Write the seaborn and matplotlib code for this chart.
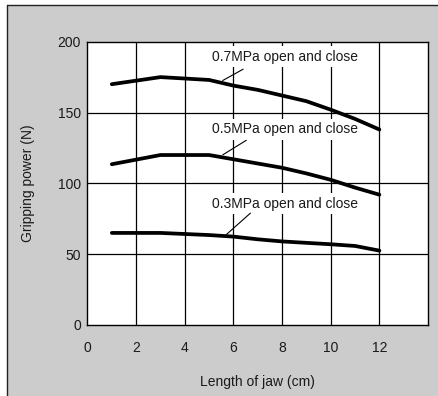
import pandas as pd
import seaborn as sns
import matplotlib.pyplot as plt
from matplotlib.patches import Rectangle
from matplotlib.lines import Line2D

jaw_length = [1, 3, 5, 6, 7, 8, 9, 10, 11, 12]
grip_07 = [170, 175, 173, 169, 166, 162, 158, 152, 145.5, 138]
grip_05 = [113.5, 120, 120, 117, 114, 111, 107, 102.5, 97, 92]
grip_03 = [65, 65, 63.5, 62.4, 60.5, 59, 58, 57, 55.8, 52.5]
series_names = ["0.7MPa open and close", "0.5MPa open and close", "0.3MPa open and close"]

df = pd.concat([
    pd.DataFrame({"x": jaw_length, "y": vals, "series": name})
    for name, vals in zip(series_names, [grip_07, grip_05, grip_03])
])

sns.set_style("white")
plt.rcParams["font.family"] = ["Liberation Sans", "DejaVu Sans"]
txt_col = "#1a1a1a"

fig = plt.figure(figsize=(4.39, 3.96), dpi=100, facecolor="white")
# grey panel with border on top and left
fig.patches.append(Rectangle((7 / 439, 0), 1, 1 - 5 / 396, transform=fig.transFigure,
                             facecolor="#cccccc", edgecolor="none", zorder=-10))
fig.lines.append(Line2D([7 / 439, 7 / 439], [0, 1 - 5 / 396], transform=fig.transFigure,
                        color="#222222", lw=1.0, zorder=-5))
fig.lines.append(Line2D([7 / 439, 1], [1 - 5 / 396, 1 - 5 / 396], transform=fig.transFigure,
                        color="#222222", lw=1.0, zorder=-5))

ax = fig.add_axes([87.5 / 439, 1 - 325 / 396, 340.5 / 439, 283.3 / 396])
ax.set_facecolor("white")

sns.lineplot(data=df, x="x", y="y", units="series", estimator=None, color="black",
             lw=2.7, ax=ax, legend=False, zorder=5)

ax.set_xlim(0, 14)
ax.set_ylim(0, 200)
ax.set_xticks([0, 2, 4, 6, 8, 10, 12])
ax.set_yticks([0, 50, 100, 150, 200])
ax.tick_params(length=0, labelsize=10, colors=txt_col)
ax.tick_params(axis="x", pad=11.5)
ax.tick_params(axis="y", pad=4.7)
for x in [2, 4, 6, 8, 10, 12]:
    ax.axvline(x, color="black", lw=0.9, zorder=1)
for y in [50, 100, 150]:
    ax.axhline(y, color="black", lw=0.9, zorder=1)
for s in ax.spines.values():
    s.set_color("black")
    s.set_linewidth(1.0)

ax.set_xlabel("Length of jaw (cm)", fontsize=10, color=txt_col)
ax.set_ylabel("Gripping power (N)", fontsize=10, color=txt_col)
ax.xaxis.set_label_coords(0.5, -0.175)
ax.yaxis.set_label_coords(-0.154, 0.5)

label_pos = [(8.1, 189.5), (8.1, 138.3), (8.1, 85.5)]
leaders = [((5.56, 172.6), (6.40, 180.6)), ((5.56, 120.1), (6.53, 130.4)), ((5.68, 63.4), (6.70, 79))]
for name, (tx, ty), (p0, p1) in zip(series_names, label_pos, leaders):
    ax.text(tx, ty, name, ha="center", va="center", fontsize=10, color=txt_col, zorder=3,
            bbox=dict(facecolor="white", edgecolor="none", pad=2.5))
    ax.plot([p0[0], p1[0]], [p0[1], p1[1]], color="black", lw=0.8, zorder=4)

plt.savefig("out.png", dpi=100, facecolor="white")
